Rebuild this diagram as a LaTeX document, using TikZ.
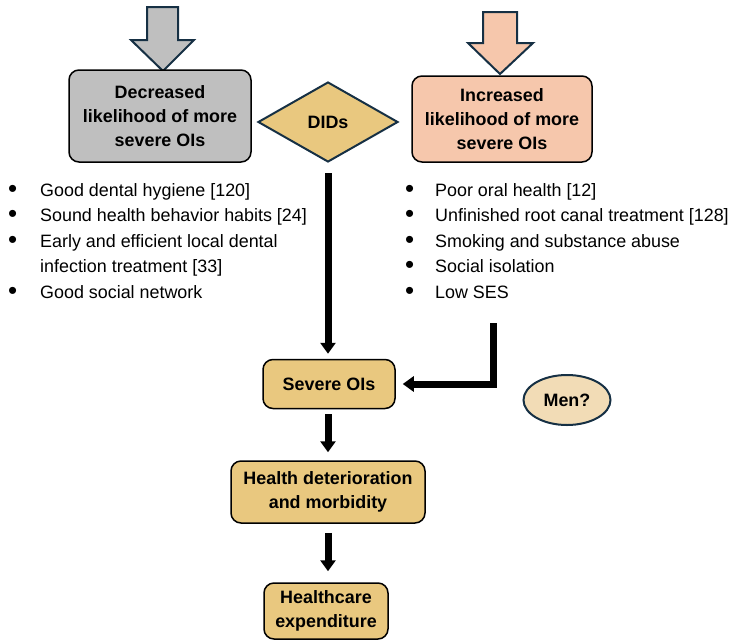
\documentclass[tikz,border=0pt]{standalone}
\usepackage{fontspec}
\setmainfont{Liberation Sans}
\usetikzlibrary{arrows.meta,positioning,shapes.geometric}
\definecolor{mygray}{RGB}{191,191,191}
\definecolor{mygold}{RGB}{233,200,127}
\definecolor{mypeach}{RGB}{246,199,172}
\definecolor{mycream}{RGB}{242,220,182}
\definecolor{mynavy}{RGB}{22,48,68}
\newcommand{\bigdot}{\raisebox{-1.2pt}{\scalebox{1.45}{\textbullet}}}

\begin{document}
\begin{tikzpicture}[x=1pt, y=-1pt,
    stepbox/.style={draw=black, line width=1.5pt, rounded corners=10pt, align=center,
                    inner sep=0pt, font=\fontsize{17.9}{24}\selectfont\bfseries},
    blockarrow/.style={draw=mynavy, line width=2pt, line join=miter},
    flowarrow/.style={line width=7pt, -{Triangle[width=15pt,length=11pt]}},
    bulletlist/.style={align=left, inner sep=0pt, font=\fontsize{17.9}{25.5}\selectfont}]
  \useasboundingbox (0,0) rectangle (732,641);

  % big input arrows
  \draw[blockarrow, fill=mygray] (147,7) -- (178,7) -- (178,40) -- (194,40)
    -- (163,71) -- (131,40) -- (147,40) -- cycle;
  \draw[blockarrow, fill=mypeach] (483,12) -- (517,12) -- (517,43) -- (533,43)
    -- (500,74) -- (468,43) -- (483,43) -- cycle;

  % top row
  \node[stepbox, fill=mygray, minimum width=182pt, minimum height=92pt](dec) at (160,116)
    {Decreased\\likelihood of more\\severe OIs};
  \node[stepbox, fill=mypeach, minimum width=180pt, minimum height=86pt](inc) at (502,119)
    {Increased\\likelihood of more\\severe OIs};
  \node[diamond, draw=mynavy, fill=mygold, line width=2pt, minimum width=140pt,
        minimum height=80pt, inner sep=0pt, font=\fontsize{17.9}{24}\selectfont\bfseries](dids)
        at (328,122){DIDs};

  % factor lists
  \node[bulletlist, anchor=north west](decbul) at (8,178)
    {\strut\bigdot\\\bigdot\\\bigdot\\\strut\\\bigdot};
  \node[bulletlist, anchor=north west](declist) at (40,178)
    {\strut Good dental hygiene [120]\\Sound health behavior habits [24]\\
     Early and efficient local dental\\infection treatment [33]\\Good social network};
  \node[bulletlist, anchor=north west](incbul) at (405,178)
    {\strut\bigdot\\\bigdot\\\bigdot\\\bigdot\\\bigdot};
  \node[bulletlist, anchor=north west](inclist) at (435,178)
    {\strut Poor oral health [12]\\Unfinished root canal treatment [128]\\
     Smoking and substance abuse\\Social isolation\\Low SES};

  % outcome chain
  \node[stepbox, fill=mygold, minimum width=132pt, minimum height=49pt](severe) at (329,384)
    {Severe OIs};
  \node[ellipse, draw=mynavy, fill=mycream, line width=2pt, minimum width=87pt,
        minimum height=50pt, inner sep=0pt, font=\fontsize{17.9}{24}\selectfont\bfseries](men)
        at (567,400){Men?};
  \node[stepbox, fill=mygold, minimum width=194pt, minimum height=62pt](health) at (328,492)
    {Health deterioration\\and morbidity};
  \node[stepbox, fill=mygold, minimum width=124pt, minimum height=56pt](cost) at (326,611)
    {Healthcare\\expenditure};

  \coordinate (riskend) at (493,323);

  \draw[flowarrow, shorten <=10pt, shorten >=5pt] (dids.south) -- (dids.south |- severe.north);
  \draw[flowarrow, line join=miter, shorten >=7pt] (riskend) |- (severe.east);
  \draw[flowarrow, shorten <=5pt, shorten >=8pt] (dids.south |- severe.south) -- (dids.south |- health.north);
  \draw[flowarrow, shorten <=9pt, shorten >=11pt] (health.south) -- (health.south |- cost.north);
\end{tikzpicture}
\end{document}
